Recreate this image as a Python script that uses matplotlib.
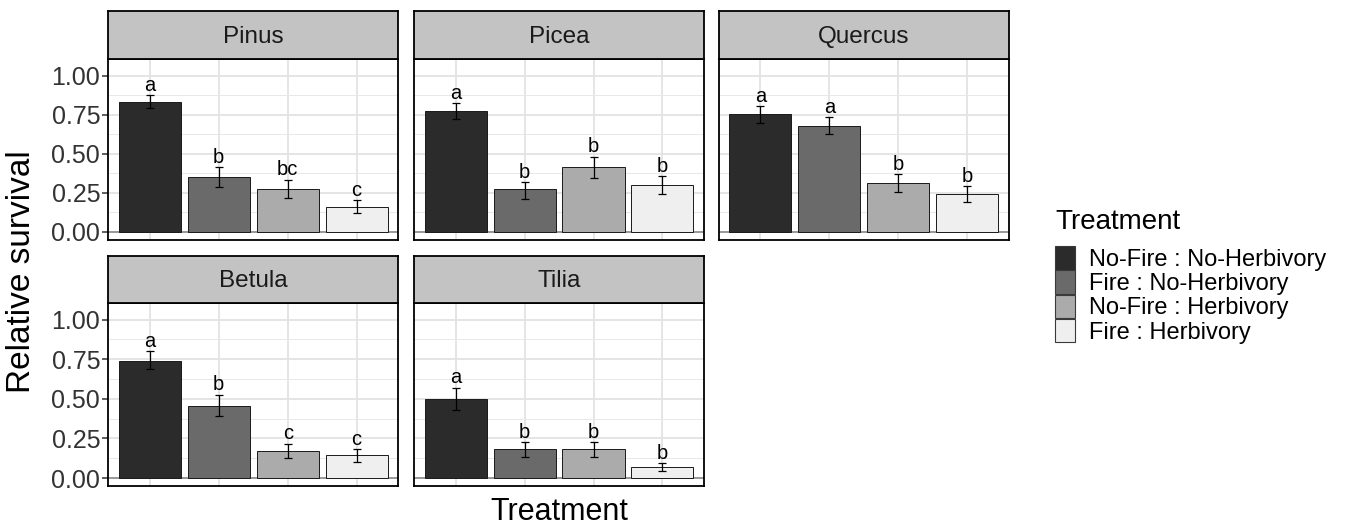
import matplotlib
matplotlib.use("Agg")
from matplotlib import pyplot as plt
from matplotlib.patches import Patch
import numpy as np

plt.rcParams["font.family"] = ["Liberation Sans", "DejaVu Sans"]

species = ["Pinus", "Picea", "Quercus", "Betula", "Tilia"]
treatments = ["No-Fire : No-Herbivory", "Fire : No-Herbivory",
              "No-Fire : Herbivory", "Fire : Herbivory"]
fills = ["#2b2b2b", "#6a6a6a", "#ababab", "#efefef"]

# mean relative survival and error bar ends, one row per species
means = {
    "Pinus":   [0.829, 0.353, 0.277, 0.159],
    "Picea":   [0.773, 0.272, 0.418, 0.300],
    "Quercus": [0.752, 0.680, 0.312, 0.242],
    "Betula":  [0.741, 0.457, 0.174, 0.145],
    "Tilia":   [0.501, 0.181, 0.181, 0.068],
}
lower = {
    "Pinus":   [0.791, 0.289, 0.218, 0.120],
    "Picea":   [0.724, 0.212, 0.346, 0.242],
    "Quercus": [0.699, 0.624, 0.255, 0.191],
    "Betula":  [0.690, 0.391, 0.127, 0.104],
    "Tilia":   [0.431, 0.134, 0.134, 0.045],
}
upper = {
    "Pinus":   [0.876, 0.416, 0.334, 0.205],
    "Picea":   [0.826, 0.320, 0.482, 0.359],
    "Quercus": [0.807, 0.737, 0.371, 0.293],
    "Betula":  [0.799, 0.527, 0.217, 0.181],
    "Tilia":   [0.570, 0.225, 0.225, 0.094],
}
letters = {
    "Pinus":   ["a", "b", "bc", "c"],
    "Picea":   ["a", "b", "b", "b"],
    "Quercus": ["a", "a", "b", "b"],
    "Betula":  ["a", "b", "c", "c"],
    "Tilia":   ["a", "b", "b", "b"],
}
yticks = [0.0, 0.25, 0.5, 0.75, 1.0]
ytick_labels = ["0.00", "0.25", "0.50", "0.75", "1.00"]

W, H = 1353, 526
fig = plt.figure(figsize=(W / 100, H / 100), dpi=100)

col_left = [108.5, 414.3, 719.0]
panel_w = 289.5
rows = [(11.0, 59.3, 239.5), (255.7, 303.0, 485.7)]  # strip top, panel top, panel bottom

x = np.arange(1, 5)
for i, sp in enumerate(species):
    r, c = divmod(i, 3)
    st, pt, pb = rows[r]
    L = col_left[c]
    ax = fig.add_axes([L / W, 1 - pb / H, panel_w / W, (pb - pt) / H])
    sax = fig.add_axes([L / W, 1 - pt / H, panel_w / W, (pt - st) / H])

    ax.set_xlim(0.4, 4.6)
    ax.set_ylim(-0.048, 1.105)
    ax.set_yticks(yticks)
    ax.set_yticks([0.125, 0.375, 0.625, 0.875], minor=True)
    ax.set_xticks(x)
    ax.grid(True, which="major", color="#e3e3e3", lw=1.3)
    ax.grid(True, which="minor", axis="y", color="#e8e8e8", lw=0.7)
    ax.set_axisbelow(True)
    ax.tick_params(axis="x", length=0, labelbottom=False)
    ax.tick_params(axis="y", which="minor", length=0)
    if c == 0:
        ax.set_yticklabels(ytick_labels)
        ax.tick_params(axis="y", length=4, width=1.1, color="#333333",
                       labelsize=18, labelcolor="#333333", pad=2)
    else:
        ax.tick_params(axis="y", length=0, labelleft=False)
    for s in ax.spines.values():
        s.set_color("black")
        s.set_linewidth(1.3)

    ax.axhline(0, color="#8c8c8c", lw=1.2, zorder=1.5)
    ax.bar(x, means[sp], width=0.9, color=fills, edgecolor="#1a1a1a",
           linewidth=0.7, zorder=2)
    m = np.array(means[sp])
    lo = m - np.array(lower[sp])
    hi = np.array(upper[sp]) - m
    ax.errorbar(x, m, yerr=[lo, hi], fmt="none", ecolor="black",
                elinewidth=0.9, capsize=3, capthick=0.9, zorder=3)
    for xi, u, t in zip(x, upper[sp], letters[sp]):
        ax.text(xi, u + 0.002, t, ha="center", va="bottom",
                fontsize=14.5, color="black", zorder=4)

    sax.set_facecolor("#c3c3c3")
    sax.set_xticks([])
    sax.set_yticks([])
    for s in sax.spines.values():
        s.set_color("black")
        s.set_linewidth(1.3)
    sax.text(0.5, 0.47, sp, ha="center", va="center", fontsize=17.5,
             color="#1a1a1a", transform=sax.transAxes)

fig.text(22 / W, 1 - 272 / H, "Relative survival", rotation=90,
         ha="center", va="center", fontsize=24, color="black")
fig.text(559 / W, 1 - 512 / H, "Treatment", ha="center", va="center",
         fontsize=22, color="black")

handles = [Patch(facecolor=f, edgecolor="#3a3a3a", linewidth=0.8) for f in fills]
leg = fig.legend(handles, treatments, loc="upper left",
                 bbox_to_anchor=(1055 / W, 1 - 209 / H), frameon=False,
                 title="Treatment", title_fontsize=20, fontsize=17,
                 handlelength=0.85, handleheight=1.15, labelspacing=-0.02,
                 handletextpad=0.6, borderaxespad=0, borderpad=0)
leg._legend_box.align = "left"
leg._legend_box.sep = 8

fig.savefig("out.png", dpi=100)
